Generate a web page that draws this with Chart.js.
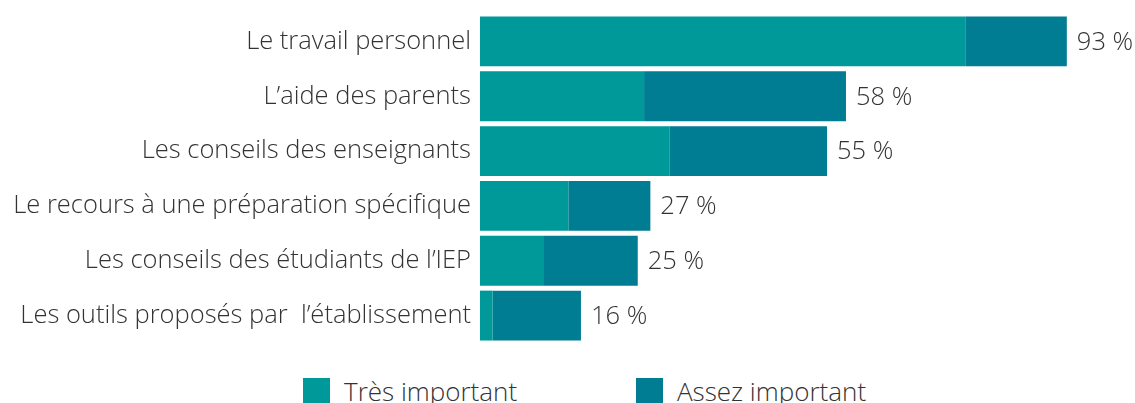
<!DOCTYPE html>
<html>
<head>
<meta charset="utf-8">
<script src="https://cdn.jsdelivr.net/npm/chart.js@4"></script>
<style>
  html, body { margin: 0; padding: 0; background: #fff; overflow: hidden; }
  #wrap { position: relative; width: 1135px; height: 403px; }
  #box { position: absolute; left: 0; top: 0; width: 1135px; height: 350px; }
  #legend { position: absolute; left: 0; top: 373px; width: 1135px; height: 40px; font-family: "Open Sans", sans-serif; font-weight: 300; font-size: 26px; color: #333; }
  .item { position: absolute; top: 0; display: flex; align-items: center; white-space: nowrap; }
  .sw { width: 27px; height: 27px; margin-right: 14px; }
</style>
</head>
<body>
<div id="wrap">
  <div id="box"><canvas id="myChart"></canvas></div>
  <div id="legend"></div>
</div>
<script>
  const categories = [
    'Le travail personnel',
    'L\u2019aide des parents',
    'Les conseils des enseignants',
    'Le recours \u00e0 une pr\u00e9paration sp\u00e9cifique',
    'Les conseils des \u00e9tudiants de l\u2019IEP',
    'Les outils propos\u00e9s par  l\u2019\u00e9tablissement'
  ];
  const tresImportant = [77, 26, 30, 14, 10, 2];
  const assezImportant = [16, 32, 25, 13, 15, 14];
  const totals = [93, 58, 55, 27, 25, 16];
  const seriesNames = ['Tr\u00e8s important', 'Assez important'];
  const colors = ['#00999a', '#007d93'];

  // total labels after each bar
  const totalLabels = {
    id: 'totalLabels',
    afterDatasetsDraw(chart) {
      const { ctx, scales: { x, y } } = chart;
      ctx.save();
      ctx.font = '300 25.5px "Open Sans", sans-serif';
      ctx.fillStyle = '#333';
      ctx.textBaseline = 'middle';
      ctx.textAlign = 'left';
      totals.forEach((t, i) => {
        ctx.fillText(t + ' %', x.getPixelForValue(t) + 10, y.getPixelForValue(i) + 1);
      });
      ctx.restore();
    }
  };

  const config = {
    type: 'bar',
    data: {
      labels: categories,
      datasets: [
        { label: seriesNames[0], data: tresImportant, backgroundColor: colors[0] },
        { label: seriesNames[1], data: assezImportant, backgroundColor: colors[1] }
      ]
    },
    options: {
      indexAxis: 'y',
      responsive: true,
      maintainAspectRatio: false,
      animation: false,
      events: [],
      barPercentage: 0.91,
      categoryPercentage: 1,
      layout: { padding: { top: 14, bottom: 7, left: 0, right: 24 } },
      scales: {
        x: { stacked: true, display: false, min: 0, max: 100 },
        y: {
          stacked: true,
          grid: { display: false, drawTicks: false },
          border: { display: false },
          ticks: {
            color: '#333',
            padding: 9,
            font: { family: '"Open Sans", sans-serif', size: 25.5, weight: 300 }
          },
          afterFit(scale) {
            scale.width = 480;
            scale.paddingTop = 0;
            scale.paddingBottom = 0;
          }
        }
      },
      plugins: {
        legend: { display: false },
        tooltip: { enabled: false }
      }
    },
    plugins: [totalLabels]
  };

  const myChart = new Chart(document.getElementById('myChart'), config);

  // legend
  const legend = document.getElementById('legend');
  const legendX = [303, 636];
  seriesNames.forEach((name, i) => {
    const item = document.createElement('div');
    item.className = 'item';
    item.style.left = legendX[i] + 'px';
    item.innerHTML = '<div class="sw" style="background:' + colors[i] + '"></div><span>' + name + '</span>';
    legend.appendChild(item);
  });
</script>
</body>
</html>
